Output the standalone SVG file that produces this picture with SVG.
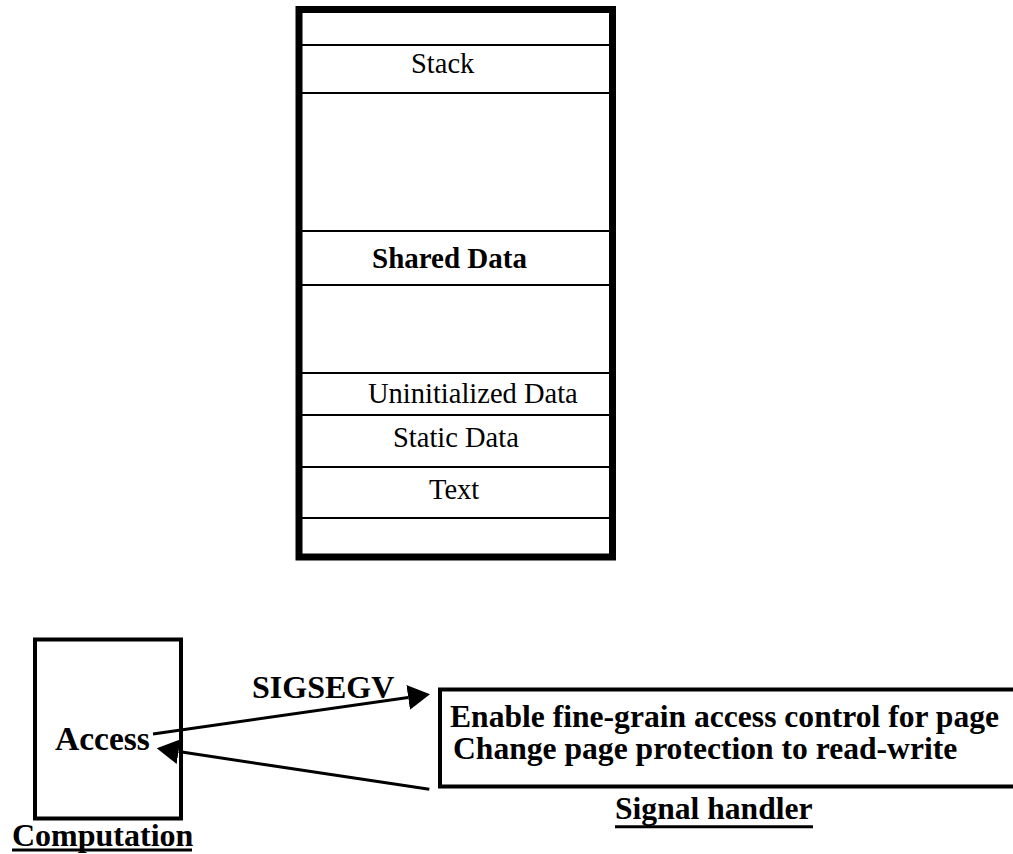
<svg xmlns="http://www.w3.org/2000/svg" width="1013" height="854" viewBox="0 0 1013 854">
  <style>
    .seg { font-family: "Liberation Serif", "Times New Roman", serif; font-size: 28.5px; fill: #000; }
    .bold { font-family: "Liberation Serif", "Times New Roman", serif; font-weight: bold; fill: #000; }
    .div { stroke: #000; stroke-width: 2; }
    .box { fill: none; stroke: #000; }
    .wire { stroke: #000; stroke-width: 3; fill: none; }
    .uline { stroke: #000; stroke-width: 3; }
  </style>
  <defs>
    <!-- solid triangular head; ref point at its base so the shaft stops there -->
    <marker id="head" viewBox="0 0 22 25" refX="0" refY="12.5" markerWidth="22" markerHeight="25" markerUnits="userSpaceOnUse" orient="auto">
      <path d="M0,0 L22,12.5 L0,25 z" fill="#000"/>
    </marker>
  </defs>
  <rect width="1013" height="854" fill="#fff"/>

  <!-- process address space -->
  <g id="address-space">
    <rect class="box" x="299" y="9.5" width="313.5" height="547.5" stroke-width="7"/>
    <line class="div" x1="302" y1="45" x2="610" y2="45"/>
    <line class="div" x1="302" y1="93" x2="610" y2="93"/>
    <line class="div" x1="302" y1="231" x2="610" y2="231"/>
    <line class="div" x1="302" y1="285" x2="610" y2="285"/>
    <line class="div" x1="302" y1="373" x2="610" y2="373"/>
    <line class="div" x1="302" y1="415" x2="610" y2="415"/>
    <line class="div" x1="302" y1="467" x2="610" y2="467"/>
    <line class="div" x1="302" y1="518" x2="610" y2="518"/>
    <text class="seg" x="411" y="73">Stack</text>
    <text class="bold" x="372" y="268" font-size="29">Shared Data</text>
    <text class="seg" x="368" y="403">Uninitialized Data</text>
    <text class="seg" x="393" y="447">Static Data</text>
    <text class="seg" x="429" y="499">Text</text>
  </g>

  <!-- computation thread -->
  <g id="computation">
    <rect class="box" x="35" y="639.5" width="146" height="179" stroke-width="4"/>
    <text class="bold" x="55" y="750" font-size="33.5">Access</text>
    <text class="bold" x="12" y="846" font-size="32">Computation</text>
    <line class="uline" x1="12" y1="850" x2="192" y2="850"/>
  </g>

  <!-- signal handler -->
  <g id="signal-handler">
    <rect class="box" x="440" y="689.5" width="590" height="97" stroke-width="4"/>
    <text class="bold" x="450" y="727" font-size="31.6">Enable fine-grain access control for page</text>
    <text class="bold" x="453" y="759" font-size="31.6">Change page protection to read-write</text>
    <text class="bold" x="615" y="819" font-size="31.6">Signal handler</text>
    <line class="uline" x1="615" y1="826.7" x2="813" y2="826.7"/>
  </g>

  <!-- connectors -->
  <g id="connectors">
    <line class="wire" x1="153" y1="734" x2="408.2" y2="697.4" marker-end="url(#head)"/>
    <text class="bold" x="252" y="698" font-size="32">SIGSEGV</text>
    <line class="wire" x1="429.3" y1="789.3" x2="178.5" y2="751.6" marker-end="url(#head)"/>
  </g>
</svg>
